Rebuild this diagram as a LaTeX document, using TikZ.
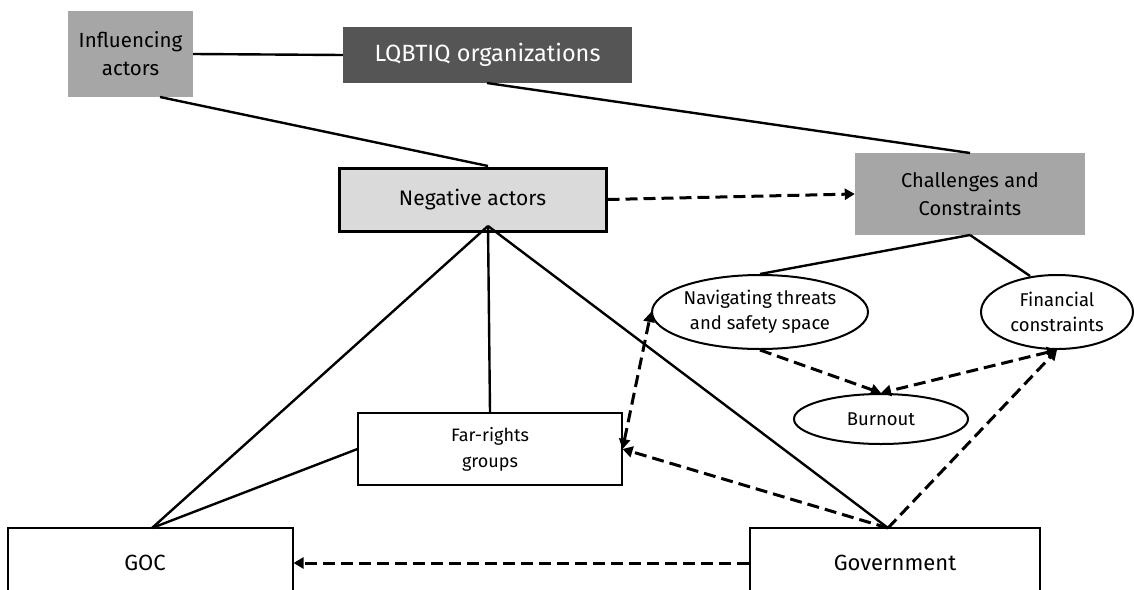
\documentclass[tikz,border=0pt]{standalone}
\usepackage{fontspec}
\setmainfont{Fira Sans}
\usetikzlibrary{arrows.meta,shapes.geometric}
\begin{document}
\begin{tikzpicture}[x=1pt,y=-1pt,
  box/.style={draw=black,line width=1.1pt,fill=white,inner sep=0pt,align=center},
  gbox/.style={draw=none,inner sep=0pt,align=center},
  ell/.style={draw=black,line width=2pt,ellipse,inner sep=0pt,align=center,font=\fontsize{18.5}{25}\selectfont},
  link/.style={line width=2.4pt},
  dlink/.style={line width=3pt,dash pattern=on 12pt off 6pt},
  tip/.style={-{Triangle[length=10pt,width=11pt]}},
  btip/.style={{Triangle[length=10pt,width=11pt]}-{Triangle[length=10pt,width=11pt]}}
]
\useasboundingbox (0,0) rectangle (1134,589);
\definecolor{gmid}{HTML}{A6A6A6}
\definecolor{gdark}{HTML}{555555}
\definecolor{glight}{HTML}{DADADA}

\node[gbox,fill=gmid,minimum width=125pt,minimum height=86pt,font=\fontsize{20.5}{28}\selectfont] (inf) at (130.5,54) {Influencing\\actors};
\node[gbox,fill=gdark,text=white,minimum width=289pt,minimum height=56pt,font=\fontsize{23.5}{28}\selectfont] (lgb) at (487.5,55) {LQBTIQ organizations};
\node[draw=black,line width=3pt,fill=glight,minimum width=267pt,minimum height=63pt,inner sep=0pt,font=\fontsize{21}{25}\selectfont] (neg) at (472.5,199.5) {Negative actors};
\node[gbox,fill=gmid,minimum width=230pt,minimum height=82pt,font=\fontsize{20}{28.5}\selectfont] (cha) at (970,194) {Challenges and\\Constraints};

\node[ell,minimum width=198pt,minimum height=74pt] (nav) at (760,312) {Navigating threats\\and safety space};
\node[ell,minimum width=152pt,minimum height=74pt] (fin) at (1057,312) {Financial\\constraints};
\node[ell,minimum width=174pt,minimum height=50pt] (bur) at (881,419) {Burnout};

\node[box,minimum width=264pt,minimum height=72pt,font=\fontsize{18}{26}\selectfont] (far) at (490,449) {Far-rights\\groups};
\node[box,minimum width=285pt,minimum height=70pt,font=\fontsize{22}{26}\selectfont,text width=275pt] (goc) at (150.5,563) {\hspace*{-11pt}GOC};
\node[box,minimum width=290pt,minimum height=70pt,font=\fontsize{22}{26}\selectfont] (gov) at (895,563) {Government};

\coordinate (negt) at (488,166);
\coordinate (negb) at (488,226);
\coordinate (goct) at (152,528);
\coordinate (govt) at (888,528);
\coordinate (chab) at (970,235);

\draw[link] (inf.east) -- (lgb.west);
\draw[link] (160,97) -- (negt);
\draw[link] (487,83) -- (970,153);
\draw[dlink,tip] (neg.east) -- (cha.west);
\draw[link] (chab) -- (nav.north);
\draw[link] (chab) -- (1030,276);

\draw[link] (negb) -- (goct);
\draw[link] (negb) -- (far.north);
\draw[link] (negb) -- (govt);
\draw[link] (far.west) -- (goct);

\draw[dlink,tip] (govt) -- (far.east);
\draw[dlink,btip] (far.east) -- (nav.west);
\draw[dlink,tip] (govt) -- (fin.south);
\draw[dlink,tip] (nav.south) -- (bur.north);
\draw[dlink,btip] (fin.south) -- (bur.north);
\draw[dlink,tip] (gov.west) -- (goc.east);
\end{tikzpicture}
\end{document}
